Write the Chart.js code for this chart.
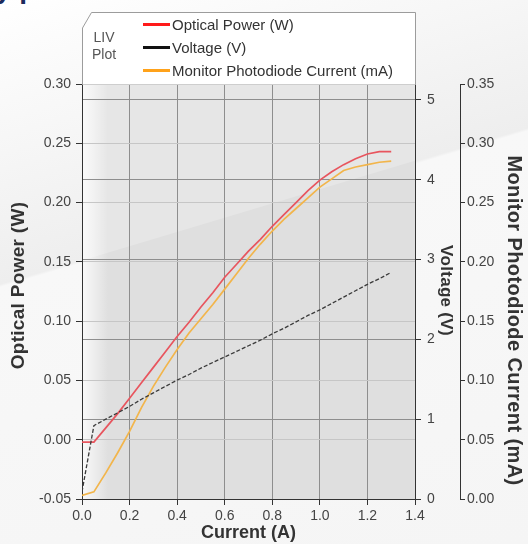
<!DOCTYPE html>
<html>
<head>
<meta charset="utf-8">
<script src="https://cdn.jsdelivr.net/npm/chart.js@4.4.0/dist/chart.umd.min.js"></script>
<style>
html,body{margin:0;padding:0;width:528px;height:544px;overflow:hidden;}
body{position:relative;font-family:"Liberation Sans",Arial,sans-serif;
 background:linear-gradient(163.5deg,#ffffff 0%,#f6f6f6 22%,#eeeeee 40.6%,#f8f8f8 41%,#f5f5f5 100%);}
#heading{position:absolute;left:-40px;top:-27px;font:bold 28px "Liberation Sans",Arial,sans-serif;color:#1d2b5c;white-space:nowrap;}
#chartBox{position:absolute;left:0;top:0;width:528px;height:544px;}
#legend{position:absolute;left:82px;top:12px;width:334px;height:73px;}
#legend svg{position:absolute;left:0;top:0;}
#liv{position:absolute;left:5px;top:17px;width:34px;font-size:14px;line-height:17px;color:#555;text-align:center;}
.item{position:absolute;left:61px;height:20px;font-size:15px;color:#333;display:flex;align-items:center;white-space:nowrap;}
.sw{display:inline-block;width:27px;height:3px;margin-right:2px;}
</style>
</head>
<body>
<div id="heading">Key performance</div>
<div id="chartBox"><canvas id="c" width="528" height="544"></canvas></div>
<div id="legend">
  <svg width="334" height="73"><path d="M0.5,73 L0.5,16 L9.5,0.5 L333.5,0.5 L333.5,73 Z" fill="#ffffff" stroke="#9c9c9c" stroke-width="1"/></svg>
  <div id="liv">LIV<br>Plot</div>
</div>
<script>
// ---- data ----
const currentA = [0, 0.05, 0.1, 0.15, 0.2, 0.25, 0.3, 0.35, 0.4, 0.45, 0.5, 0.55, 0.6, 0.65, 0.7, 0.75, 0.8, 0.85, 0.9, 0.95, 1.0, 1.05, 1.1, 1.15, 1.2, 1.25, 1.3];
const opticalPowerW = [-0.002, -0.002, 0.010, 0.022, 0.035, 0.048, 0.061, 0.074, 0.087, 0.099, 0.112, 0.124, 0.137, 0.148, 0.159, 0.169, 0.180, 0.190, 0.200, 0.210, 0.219, 0.226, 0.232, 0.237, 0.241, 0.243, 0.243];
const voltageV = [0.09, 0.92, 1.00, 1.08, 1.16, 1.25, 1.33, 1.41, 1.49, 1.56, 1.64, 1.71, 1.78, 1.85, 1.92, 1.99, 2.07, 2.14, 2.22, 2.30, 2.37, 2.45, 2.53, 2.61, 2.69, 2.76, 2.84];
const monitorCurrentMA = [0.003, 0.006, 0.022, 0.039, 0.057, 0.077, 0.095, 0.111, 0.126, 0.140, 0.152, 0.164, 0.177, 0.190, 0.203, 0.215, 0.226, 0.236, 0.245, 0.254, 0.263, 0.270, 0.277, 0.280, 0.282, 0.284, 0.285];
const seriesNames = ['Optical Power (W)', 'Voltage (V)', 'Monitor Photodiode Current (mA)'];
const xTicks = [0, 0.2, 0.4, 0.6, 0.8, 1.0, 1.2, 1.4];
const powerTicks = [-0.05, 0, 0.05, 0.10, 0.15, 0.20, 0.25, 0.30];
const voltageTicks = [0, 1, 2, 3, 4, 5];
const monitorTicks = [0, 0.05, 0.10, 0.15, 0.20, 0.25, 0.30, 0.35];

// ---- styles ----
const lineColors = ['#e8555e', '#3a3a3a', '#f2b54b'];
const legendColors = ['#ff1a1a', '#111111', '#ffa21a'];

// legend entries (HTML)
const legendEl = document.getElementById('legend');
seriesNames.forEach((name, i) => {
  const d = document.createElement('div');
  d.className = 'item';
  d.style.top = (2 + i * 23) + 'px';
  const sw = document.createElement('span');
  sw.className = 'sw';
  sw.style.background = legendColors[i];
  d.appendChild(sw);
  d.appendChild(document.createTextNode(name));
  legendEl.appendChild(d);
});

const toXY = (ys) => currentA.map((x, i) => ({x: x, y: ys[i]}));
const setTicks = (arr) => (scale) => { scale.ticks = arr.map(v => ({value: v})); };

const plotBg = {
  id: 'plotBg',
  beforeDraw(chart) {
    const {ctx, chartArea: {left, top, right, bottom}} = chart;
    ctx.save();
    ctx.fillStyle = '#dfdfdf';
    ctx.fillRect(left, top, right - left, bottom - top);
    ctx.beginPath(); ctx.rect(left, top, right - left, bottom - top); ctx.clip();
    ctx.beginPath(); ctx.moveTo(0, 0); ctx.lineTo(528, 0); ctx.lineTo(528, 127); ctx.lineTo(0, 285); ctx.closePath();
    ctx.fillStyle = 'rgba(255,255,255,0.22)'; ctx.fill();
    const g = ctx.createLinearGradient(left, 0, left + 26, 0);
    g.addColorStop(0, 'rgba(255,255,255,0.85)');
    g.addColorStop(1, 'rgba(255,255,255,0)');
    ctx.fillStyle = g; ctx.fillRect(left, top, 26, bottom - top);
    ctx.restore();
  }
};

// vertical axis titles: small letter-spacing / position tweaks to match the reference
const titleAdjust = {y: {spacing: 0.3, shift: -6}, yV: {spacing: 0.3, shift: -1}, yM: {spacing: 0.4, shift: 29}};
const titleTweak = {
  id: 'titleTweak',
  beforeDraw(chart) {
    Object.keys(titleAdjust).forEach((id) => {
      const s = chart.scales[id];
      if (!s || s._tweaked) return;
      const adj = titleAdjust[id];
      const orig = s.drawTitle;
      s.drawTitle = function () {
        const ctx = this.ctx;
        ctx.save();
        if ('letterSpacing' in ctx) ctx.letterSpacing = adj.spacing + 'px';
        ctx.translate(0, adj.shift);
        orig.call(this);
        ctx.restore();
      };
      s._tweaked = true;
    });
  }
};

const fam = '"Liberation Sans", Arial, sans-serif';
const tickFont = {family: fam, size: 14};

new Chart(document.getElementById('c'), {
  type: 'line',
  data: {
    datasets: [
      {label: seriesNames[1], data: toXY(voltageV), yAxisID: 'yV', borderColor: lineColors[1], borderWidth: 1.3, borderDash: [4, 2], pointRadius: 0, tension: 0},
      {label: seriesNames[0], data: toXY(opticalPowerW), yAxisID: 'y', borderColor: lineColors[0], borderWidth: 1.7, pointRadius: 0, tension: 0},
      {label: seriesNames[2], data: toXY(monitorCurrentMA), yAxisID: 'yM', borderColor: lineColors[2], borderWidth: 1.7, pointRadius: 0, tension: 0}
    ]
  },
  options: {
    responsive: false,
    animation: false,
    events: [],
    layout: {padding: {top: 84, left: 0, right: 0, bottom: 0}},
    plugins: {legend: {display: false}, tooltip: {enabled: false}},
    scales: {
      x: {
        type: 'linear', min: 0, max: 1.4,
        afterBuildTicks: setTicks(xTicks),
        afterFit: (s) => { s.height = 45; },
        ticks: {font: tickFont, color: '#444', padding: 3, maxRotation: 0, callback: (v) => v.toFixed(1)},
        grid: {color: '#8e8e8e', tickColor: '#333', tickLength: 6},
        border: {color: '#333'},
        title: {display: true, text: 'Current (A)', font: {family: fam, size: 18, weight: 'bold'}, color: '#333', padding: {top: 0, bottom: 0}}
      },
      y: {
        position: 'left', min: -0.05, max: 0.30,
        afterBuildTicks: setTicks(powerTicks),
        afterFit: (s) => { s.width = 82; },
        ticks: {font: tickFont, color: '#444', padding: 5, callback: (v) => v.toFixed(2)},
        grid: {color: '#c6c6c6', tickColor: '#333', tickLength: 6},
        border: {color: '#333'},
        title: {display: true, text: 'Optical Power (W)', font: {family: fam, size: 19, weight: 'bold'}, color: '#333', padding: {top: 7, bottom: 0}}
      },
      yV: {
        position: 'right', weight: 0, min: 0, max: 5.2,
        afterBuildTicks: setTicks(voltageTicks),
        afterFit: (s) => { s.width = 45; },
        ticks: {font: tickFont, color: '#444', padding: 6, callback: (v) => String(v)},
        grid: {color: '#8e8e8e', tickColor: '#333', tickLength: 6, drawOnChartArea: true},
        border: {color: '#333'},
        title: {display: true, text: 'Voltage (V)', font: {family: fam, size: 17, weight: 'bold'}, color: '#333', padding: {top: 4, bottom: 0}}
      },
      yM: {
        position: 'right', weight: 1, min: 0, max: 0.35,
        afterBuildTicks: setTicks(monitorTicks),
        afterFit: (s) => { s.width = 68; },
        ticks: {font: tickFont, color: '#444', padding: 2, callback: (v) => v.toFixed(2)},
        grid: {drawOnChartArea: false, tickColor: '#333', tickLength: 5},
        border: {color: '#333'},
        title: {display: true, text: 'Monitor Photodiode Current (mA)', font: {family: fam, size: 20, weight: 'bold'}, color: '#333', padding: {top: 2, bottom: 0}}
      }
    }
  },
  plugins: [plotBg, titleTweak]
});
</script>
</body>
</html>
